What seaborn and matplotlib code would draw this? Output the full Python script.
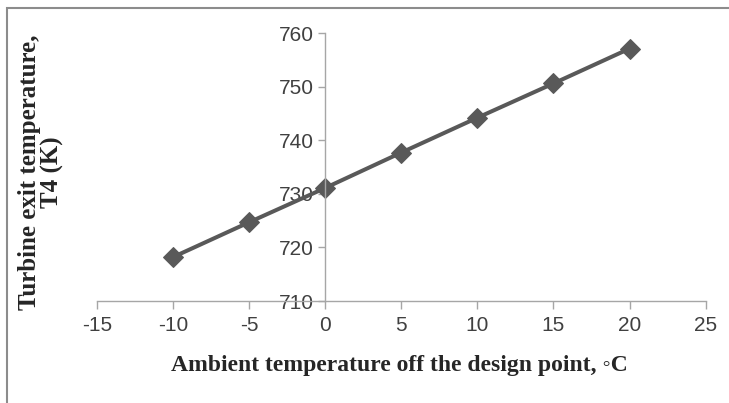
import matplotlib
matplotlib.use("Agg")
import matplotlib.pyplot as plt
import seaborn as sns
import pandas as pd
from matplotlib.patches import Rectangle

# data
ambient = [-10, -5, 0, 5, 10, 15, 20]
t4 = [718.2, 724.7, 731.1, 737.7, 744.2, 750.6, 757.1]
xticks = [-15, -10, -5, 0, 5, 10, 15, 20, 25]
yticks = [710, 720, 730, 740, 750, 760]

df = pd.DataFrame({"ambient": ambient, "t4": t4})

sns.set_style("white")
plt.rcParams['font.family'] = ['Liberation Sans Narrow', 'Liberation Sans', 'DejaVu Sans']

fig = plt.figure(figsize=(7.29, 4.03), dpi=100)
ax = fig.add_axes([0.133, 0.253, 0.835, 0.665])

sns.lineplot(data=df, x="ambient", y="t4", ax=ax, color='#595959', linewidth=2.9,
             marker='D', markersize=10.5, markeredgecolor='#595959')

ax.set_xlim(-15, 25)
ax.set_ylim(710, 760)
ax.set_xticks(xticks)
ax.set_yticks(yticks)
ax.set_xticklabels([str(v) for v in xticks])
ax.set_yticklabels([str(v) for v in yticks])

# axes crossing at x = 0 / y = 710, like the Excel original
ax.spines['left'].set_position(('data', 0))
ax.spines['right'].set_visible(False)
ax.spines['top'].set_visible(False)
for s in ['left', 'bottom']:
    ax.spines[s].set_color('#A6A6A6')
    ax.spines[s].set_linewidth(1.0)
ax.tick_params(axis='both', direction='out', length=6, width=1, color='#A6A6A6',
               labelsize=15, labelcolor='#404040', left=True, bottom=True)
ax.tick_params(axis='x', pad=5)
ax.tick_params(axis='y', length=5, pad=3)

ax.set_xlabel("")
ax.set_ylabel("")
fig.text(0.548, 0.092, "Ambient temperature off the design point, \u25e6C", ha='center', va='center',
         fontsize=17, fontweight='bold', family=['Liberation Serif', 'DejaVu Serif'])
fig.text(0.056, 0.573, "Turbine exit temperature,\nT4 (K)", ha='center', va='center', rotation=90,
         fontsize=18, fontweight='bold', linespacing=1.0, family=['Liberation Serif', 'DejaVu Serif'])

# chart area border (cropped on right and bottom)
fig.patches.append(Rectangle((7 / 729, -0.1), 1.2, 1.0 - 8 / 403 + 0.1, transform=fig.transFigure,
                             fill=False, edgecolor='#8C8C8C', linewidth=1.5))

fig.savefig("out.png", dpi=100)
